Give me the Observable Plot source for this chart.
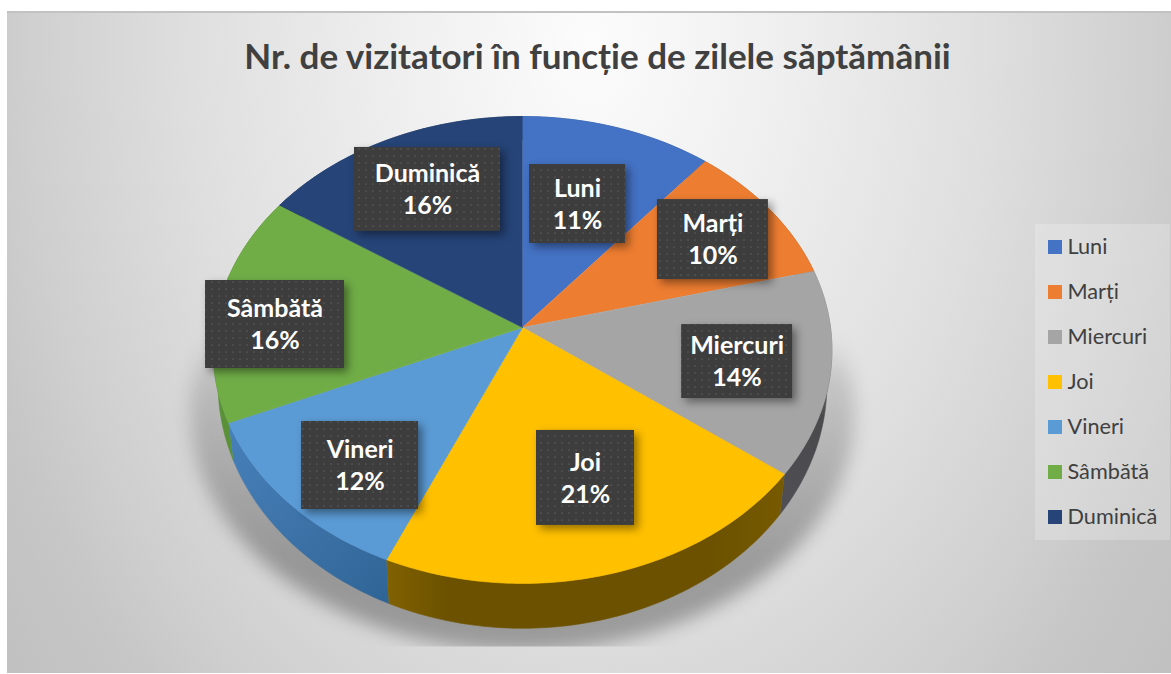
<!DOCTYPE html>
<html lang="ro">
<head>
<meta charset="utf-8">
<title>Nr. de vizitatori</title>
<script src="https://cdn.jsdelivr.net/npm/d3@7"></script>
<script src="https://cdn.jsdelivr.net/npm/@observablehq/plot@0.6"></script>
<style>
  html, body { margin: 0; padding: 0; width: 1171px; height: 674px; overflow: hidden; background: #fff; }
  #panel { position: absolute; left: 7px; top: 11px; width: 1164px; height: 662px; box-sizing: border-box;
    border-top: 2px solid #c2c2c2;
    background: radial-gradient(ellipse 640px 900px at 583px 30px, #fcfcfc 0%, #efefef 30%, #dfdfdf 62%, #cfcfcf 88%, #c6c6c6 100%, #bdbdbd 125%); }
  #chart { position: absolute; left: 0; top: 0; }
  #chart svg { display: block; }
  .shadow { filter: blur(9px); clip-path: url(#floorClip); }
  .boxes { filter: drop-shadow(4px 4px 4px rgba(0,0,0,.42)); }
</style>
</head>
<body>
<svg width="0" height="0" style="position:absolute">
  <defs>
    <pattern id="dots" width="7" height="7" patternUnits="userSpaceOnUse">
      <rect width="7" height="7" fill="#3d3d3d"/>
      <circle cx="2" cy="2" r="0.85" fill="#595959"/>
    </pattern>
    <linearGradient id="shadowFill" gradientUnits="userSpaceOnUse" x1="0" y1="335" x2="0" y2="560">
      <stop offset="0" stop-color="#000" stop-opacity="0"/>
      <stop offset="0.2" stop-color="#000" stop-opacity="0.13"/>
      <stop offset="1" stop-color="#000" stop-opacity="0.3"/>
    </linearGradient>
    <linearGradient id="sideVineri" gradientUnits="userSpaceOnUse" x1="225" y1="430" x2="385" y2="600">
      <stop offset="0" stop-color="#4680ba"/><stop offset="0.5" stop-color="#3d73a8"/><stop offset="1" stop-color="#2f6596"/>
    </linearGradient>
    <linearGradient id="sideJoi" gradientUnits="userSpaceOnUse" x1="385" y1="0" x2="785" y2="0">
      <stop offset="0" stop-color="#826200"/><stop offset="0.15" stop-color="#6c5200"/><stop offset="0.8" stop-color="#6b5100"/><stop offset="1" stop-color="#775a00"/>
    </linearGradient>
    <linearGradient id="sideMiercuri" gradientUnits="userSpaceOnUse" x1="0" y1="350" x2="0" y2="515">
      <stop offset="0" stop-color="#7d7d7d"/><stop offset="0.4" stop-color="#4a4a4c"/><stop offset="1" stop-color="#4f4f55"/>
    </linearGradient>
    <clipPath id="floorClip" clipPathUnits="userSpaceOnUse"><rect x="0" y="0" width="1171" height="646"/></clipPath>
  </defs>
</svg>
<div id="panel"></div>
<div id="chart"></div>
<script>
// Data (shares in percent; labels show them rounded)
const days = ["Luni", "Marți", "Miercuri", "Joi", "Vineri", "Sâmbătă", "Duminică"];
const shares = [11.0, 10.0, 14.2, 21.4, 11.9, 15.9, 15.6];
const colors = ["#4472C4", "#ED7D31", "#A5A5A5", "#FFC000", "#5B9BD5", "#70AD47", "#264478"];
const sideColors = ["#2f5597", "#a85820", "url(#sideMiercuri)", "url(#sideJoi)", "url(#sideVineri)", "#5a9138", "#1b3257"];
const title = "Nr. de vizitatori în funcție de zilele săptămânii";

// Layout of the perspective disc
const topFace = {cx: 522, cy: 327, R: 308, Q: 231.3, k: 0.0963};
const bottomFace = {cx: 522, cy: 360, R: 303, Q: 242, k: 0.0963};
const floor = {cx: 522, cy: 405, R: 332, Q: 238, k: 0.03};
// Label placement: fraction of the radius along the mid angle of each slice, and box size
const pullX = [.575, .770, .697, .728, .693, .814, .711];
const pullY = [.619, .746, .746, .610, .789, .144, .734];
const boxW = [96, 111, 111, 98, 117, 139, 146];
const boxH = [79, 80, 74, 95, 88, 88, 84];

const project = (f, deg, px = 1, py = 1) => {
  const a = deg * Math.PI / 180, d = 1 + f.k * Math.cos(a);
  return {x: f.cx + px * f.R * Math.sin(a) / d, y: f.cy - py * f.Q * Math.cos(a) / d};
};
const arcAngles = (a0, a1) => d3.range(a0, a1, 1).concat(a1);

let cum = 0;
const slices = days.map((day, i) => {
  const a0 = cum * 3.6; cum += shares[i]; const a1 = cum * 3.6;
  return {day, i, a0, a1, mid: (a0 + a1) / 2};
});

const faceMarks = slices.map(s => Plot.line(
  [{x: topFace.cx, y: topFace.cy}, ...arcAngles(s.a0, s.a1).map(a => project(topFace, a))],
  {x: "x", y: "y", fill: colors[s.i], stroke: colors[s.i], strokeWidth: 0.6, strokeLinejoin: "round"}
));
const sideMarks = slices.map(s => {
  const arc = arcAngles(s.a0, s.a1);
  return Plot.line(
    [...arc.map(a => project(topFace, a)), ...arc.slice().reverse().map(a => project(bottomFace, a))],
    {x: "x", y: "y", fill: sideColors[s.i], stroke: sideColors[s.i], strokeWidth: 0.6}
  );
});
const shadowPts = arcAngles(0, 360).map(a => project(floor, a));

const labels = slices.map(s => {
  const c = project(topFace, s.mid, pullX[s.i], pullY[s.i]);
  return {
    x: c.x, y: c.y - 1.5,
    x1: c.x - boxW[s.i] / 2, x2: c.x + boxW[s.i] / 2,
    y1: c.y - boxH[s.i] / 2, y2: c.y + boxH[s.i] / 2,
    text: `${s.day}\n${Math.round(shares[s.i])}%`
  };
});

const legendRows = days.map((day, i) => ({day, y: 247 + i * 45}));

const plot = Plot.plot({
  width: 1171, height: 674,
  margin: 0,
  style: {background: "none", overflow: "visible"},
  x: {domain: [0, 1171], range: [0, 1171], axis: null},
  y: {domain: [0, 674], range: [0, 674], axis: null},
  color: {domain: days, range: colors},
  marks: [
    Plot.line(shadowPts, {x: "x", y: "y", fill: "url(#shadowFill)", stroke: "none", className: "shadow"}),
    ...sideMarks,
    ...faceMarks,
    Plot.rect(labels, {x1: "x1", x2: "x2", y1: "y1", y2: "y2", fill: "url(#dots)", className: "boxes"}),
    Plot.text(labels, {x: "x", y: "y", text: "text", fill: "white", fontFamily: "Lato", fontWeight: 700, fontSize: 25, lineHeight: 1.28}),
    Plot.text([title], {x: () => 597, y: () => 57, text: d => d, fill: "#404040", fontFamily: "Lato", fontWeight: 700, fontSize: 35}),
    Plot.rect([0], {x1: () => 1035, x2: () => 1170, y1: () => 224, y2: () => 540, fill: "#fff", fillOpacity: 0.22}),
    Plot.rect(legendRows, {x1: () => 1048, x2: () => 1062, y1: d => d.y - 7, y2: d => d.y + 7, fill: "day"}),
    Plot.text(legendRows, {x: () => 1067, y: "y", text: "day", textAnchor: "start", fill: "#404040", fontFamily: "Lato", fontSize: 21.7})
  ]
});
document.getElementById("chart").append(plot);
</script>
</body>
</html>
